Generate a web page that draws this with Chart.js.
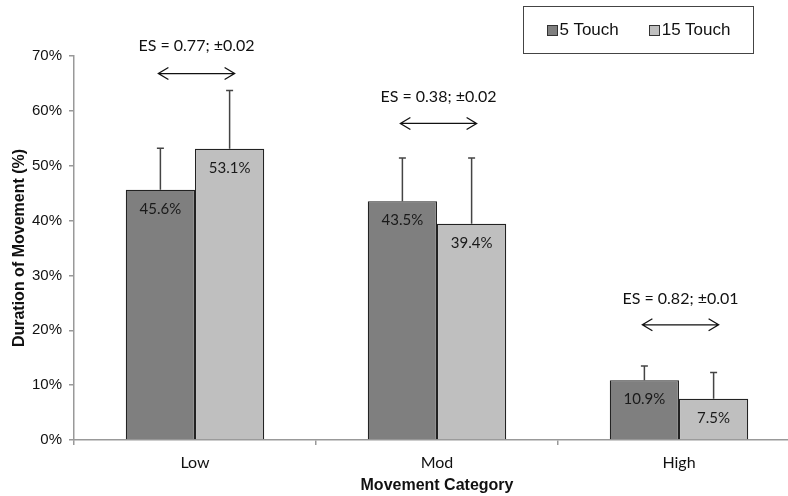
<!DOCTYPE html>
<html>
<head>
<meta charset="utf-8">
<script src="https://cdn.jsdelivr.net/npm/chart.js@4.4.1/dist/chart.umd.min.js"></script>
<style>
  html, body { margin: 0; padding: 0; background: #fff; overflow: hidden; }
  #wrap { position: relative; width: 802px; height: 496px; }
  #legend {
    position: absolute; left: 523px; top: 6px; width: 229px; height: 46px;
    border: 1.5px solid #444; box-sizing: content-box;
    font-family: "Liberation Sans", Arial, sans-serif; font-size: 17px; color: #111;
    display: flex; align-items: center; justify-content: center; gap: 30px;
  }
  #legend span.item { display: flex; align-items: center; }
  #legend span.box { width: 9px; height: 9px; border: 1px solid #333; margin-right: 2px; display: inline-block; }
</style>
</head>
<body>
<div id="wrap">
  <canvas id="chart" width="802" height="496"></canvas>
  <div id="legend"></div>
</div>
<script>
// chart data
const categories = ["Low", "Mod", "High"];
const seriesNames = ["5 Touch", "15 Touch"];
const touch5 = [45.6, 43.5, 10.9];
const touch15 = [53.1, 39.4, 7.5];
const touch5Err = [7.6, 7.9, 2.6];
const touch15Err = [10.6, 12.0, 4.8];
const esLabels = ["ES = 0.77; \u00b10.02", "ES = 0.38; \u00b10.02", "ES = 0.82; \u00b10.01"];
const yTicks = [0, 10, 20, 30, 40, 50, 60, 70];

const colors = ["#7f7f7f", "#bfbfbf"];

// legend built from the series
const legendEl = document.getElementById("legend");
seriesNames.forEach((name, i) => {
  const item = document.createElement("span");
  item.className = "item";
  const box = document.createElement("span");
  box.className = "box";
  box.style.background = colors[i];
  item.appendChild(box);
  item.appendChild(document.createTextNode(name));
  legendEl.appendChild(item);
});

// upward error bars
const errorBars = {
  id: "errorBars",
  afterDatasetsDraw(chart) {
    const ctx = chart.ctx;
    const y = chart.scales.y;
    const errs = [touch5Err, touch15Err];
    ctx.save();
    ctx.strokeStyle = "#444";
    ctx.lineWidth = 1.5;
    chart.data.datasets.forEach((ds, di) => {
      chart.getDatasetMeta(di).data.forEach((bar, i) => {
        const top = y.getPixelForValue(ds.data[i] + errs[di][i]);
        ctx.beginPath();
        ctx.moveTo(bar.x, bar.y);
        ctx.lineTo(bar.x, top);
        ctx.moveTo(bar.x - 3.5, top);
        ctx.lineTo(bar.x + 3.5, top);
        ctx.stroke();
      });
    });
    ctx.restore();
  }
};

// value labels inside bars
const valueLabels = {
  id: "valueLabels",
  afterDatasetsDraw(chart) {
    const ctx = chart.ctx;
    ctx.save();
    ctx.font = "15px Lato, 'Open Sans', sans-serif";
    ctx.fillStyle = "#1a1a1a";
    ctx.textAlign = "center";
    ctx.textBaseline = "middle";
    chart.data.datasets.forEach((ds, di) => {
      chart.getDatasetMeta(di).data.forEach((bar, i) => {
        ctx.fillText(ds.data[i].toFixed(1) + "%", bar.x, bar.y + 19);
      });
    });
    ctx.restore();
  }
};

// effect size labels with double arrows
const esNotes = {
  id: "esNotes",
  afterDraw(chart, args, opts) {
    const ctx = chart.ctx;
    const y = chart.scales.y;
    const m0 = chart.getDatasetMeta(0).data;
    const m1 = chart.getDatasetMeta(1).data;
    ctx.save();
    ctx.strokeStyle = "#111";
    ctx.fillStyle = "#111";
    ctx.lineWidth = 1.3;
    esLabels.forEach((txt, i) => {
      const x0 = m0[i].x - 2;
      const x1 = m1[i].x + 5;
      const ay = y.getPixelForValue(opts.arrowLevels[i]);
      const ty = y.getPixelForValue(opts.textLevels[i]);
      ctx.beginPath();
      ctx.moveTo(x0, ay);
      ctx.lineTo(x1, ay);
      ctx.moveTo(x0 + 10, ay - 6);
      ctx.lineTo(x0, ay);
      ctx.lineTo(x0 + 10, ay + 6);
      ctx.moveTo(x1 - 10, ay - 6);
      ctx.lineTo(x1, ay);
      ctx.lineTo(x1 - 10, ay + 6);
      ctx.stroke();
      ctx.font = "16px Lato, 'Open Sans', sans-serif";
      ctx.textAlign = "center";
      ctx.textBaseline = "middle";
      ctx.fillText(txt, (x0 + x1) / 2, ty);
    });
    ctx.restore();
  }
};

new Chart(document.getElementById("chart"), {
  type: "bar",
  data: {
    labels: categories,
    datasets: [
      { label: seriesNames[0], data: touch5, backgroundColor: colors[0], borderColor: "#222", borderWidth: 1.2 },
      { label: seriesNames[1], data: touch15, backgroundColor: colors[1], borderColor: "#222", borderWidth: 1.2 }
    ]
  },
  options: {
    responsive: false,
    animation: false,
    layout: { padding: { top: 56, right: 2, left: 0, bottom: 0 } },
    datasets: { bar: { categoryPercentage: 0.572, barPercentage: 1 } },
    plugins: {
      legend: { display: false },
      tooltip: { enabled: false },
      esNotes: {
        arrowLevels: [66.8, 57.7, 21.0],
        textLevels: [71.8, 62.5, 25.8]
      }
    },
    scales: {
      x: {
        grid: { display: true, drawOnChartArea: false, offset: true, color: "#999", tickLength: 5, lineWidth: 1.5 },
        border: { color: "#999", width: 1.5 },
        ticks: { color: "#111", font: { family: "Lato, 'Open Sans', sans-serif", size: 16 }, padding: 8 },
        title: { display: true, text: "Movement Category", color: "#111", font: { family: "'Liberation Sans', Arial, sans-serif", size: 16, weight: "bold" }, padding: { top: 2, bottom: 1 } },
        afterFit(scale) { scale.height = 56; }
      },
      y: {
        min: 0,
        max: 70,
        afterBuildTicks(scale) { scale.ticks = yTicks.map(v => ({ value: v })); },
        grid: { display: true, drawOnChartArea: false, color: "#999", tickLength: 5, lineWidth: 1.5 },
        border: { color: "#999", width: 1.5 },
        ticks: { color: "#111", font: { family: "'Liberation Sans', Arial, sans-serif", size: 15 }, padding: 7, callback: v => v + "%" },
        title: { display: true, text: "Duration of Movement (%)", color: "#111", font: { family: "'Liberation Sans', Arial, sans-serif", size: 16, weight: "bold" }, padding: { top: 10, bottom: 0 } },
        afterFit(scale) { scale.width = 74; }
      }
    }
  },
  plugins: [errorBars, valueLabels, esNotes]
});
</script>
</body>
</html>
